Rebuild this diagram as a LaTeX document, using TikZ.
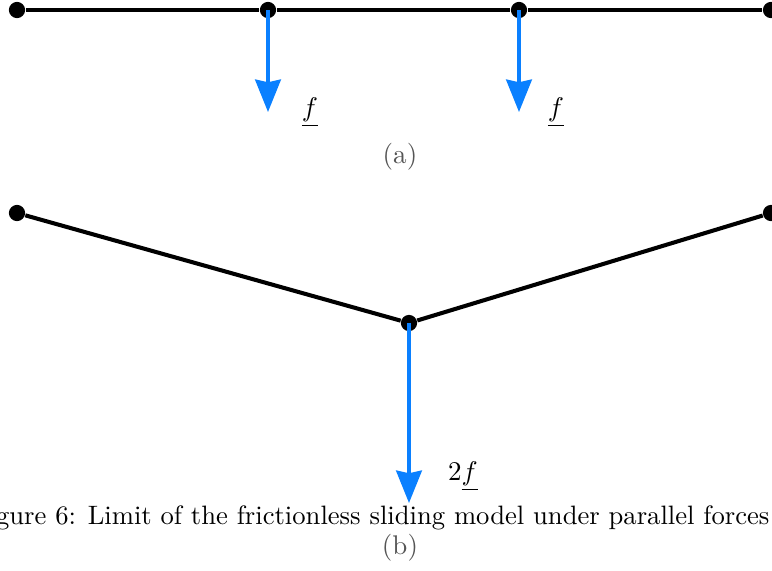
\documentclass[tikz,border=0pt]{standalone}
\usepackage{amsmath}
\usepackage{tikz}
\usetikzlibrary{arrows.meta}
\definecolor{forceblue}{RGB}{10,128,255}
\definecolor{subgray}{RGB}{85,85,85}

\begin{document}
\begin{tikzpicture}[
				x=0.37pt, y=-0.37pt,
				joint/.style = {circle, fill=black, inner sep=0pt, minimum size=6pt},
				bar/.style = {line width=1.5pt, black},
				force/.style = {line width=1.3pt, forceblue, -{Stealth[length=12pt, width=9.5pt, inset=1pt]}},
				sublabel/.style = {text=subgray}
				]
				\useasboundingbox (0,0) rectangle (772,570);

				% (a) straight chain
				\node[joint] (A1) at (17,10) {};
				\node[joint] (A2) at (268,10) {};
				\node[joint] (A3) at (519,10) {};
				\node[joint] (A4) at (771,10) {};
				\coordinate (F2) at (268,112);
				\coordinate (F3) at (519,112);

				\draw[bar] (A1) -- (A2) -- (A3) -- (A4);
				\draw[force] (A2.center) -- (F2);
				\draw[force] (A3.center) -- (F3);
				\node (f2) at (310,112) {$\underline{f}$};
				\node (f3) at (556,112) {$\underline{f}$};
				\node[sublabel] (suba) at (400,157) {(a)};

				% (b) bent chain
				\node[joint] (B1) at (17,213) {};
				\node[joint] (B2) at (409,323) {};
				\node[joint] (B3) at (771,213) {};
				\coordinate (G2) at (409,503);

				\draw[bar] (B1) -- (B2) -- (B3);
				\draw[force] (B2.center) -- (G2);
				\node (g2) at (463,476) {$2\underline{f}$};

				\node[anchor=east, inner xsep=0pt, scale=0.985] (cap) at (770,518) {Figure 6: Limit of the frictionless sliding model under parallel forces};
				\node[sublabel] (subb) at (400,548) {(b)};
			\end{tikzpicture}
\end{document}
